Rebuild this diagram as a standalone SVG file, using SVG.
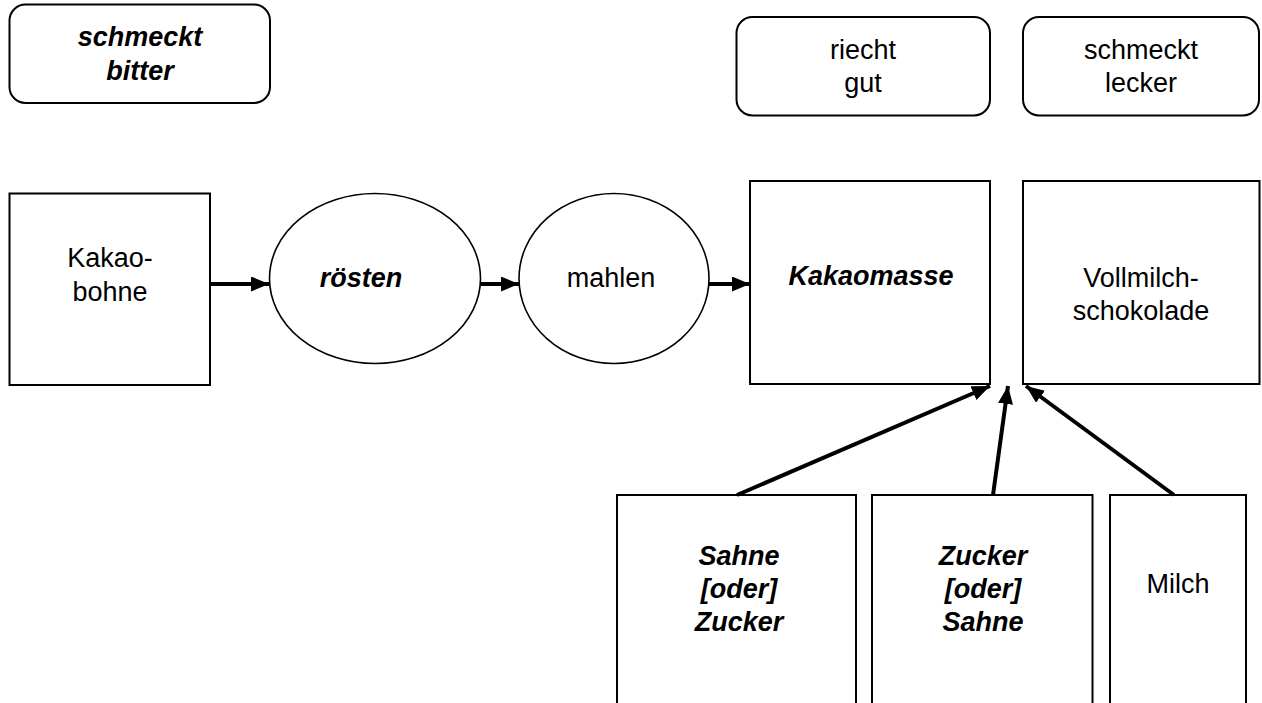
<svg xmlns="http://www.w3.org/2000/svg" width="1262" height="703" viewBox="0 0 1262 703">
<style>
.box{fill:#fff;stroke:#000;stroke-width:2}
.ell{fill:#fff;stroke:#000;stroke-width:1.6}
.t{font-family:"Liberation Sans",Arial,sans-serif;font-size:27px;fill:#000;text-anchor:middle}
.bi{font-weight:bold;font-style:italic}
.arr{stroke:#000;stroke-width:4;fill:none;marker-end:url(#ah)}
</style>
<defs>
<marker id="ah" markerUnits="userSpaceOnUse" markerWidth="18" markerHeight="15" refX="18" refY="7.5" orient="auto">
<path d="M0,0 L18,7.5 L0,15 z" fill="#000"/>
</marker>
</defs>
<rect width="1262" height="703" fill="#fff"/>
<g id="bitter">
<rect class="box" x="9.5" y="4.5" width="260.5" height="98.5" rx="16"/>
<text class="t bi" x="140" y="46">schmeckt</text>
<text class="t bi" x="140" y="80">bitter</text>
</g>
<g id="riecht">
<rect class="box" x="736.5" y="17" width="253.5" height="98.5" rx="16"/>
<text class="t" x="863" y="59">riecht</text>
<text class="t" x="863" y="92">gut</text>
</g>
<g id="lecker">
<rect class="box" x="1023" y="17" width="236" height="98.5" rx="16"/>
<text class="t" x="1141" y="59">schmeckt</text>
<text class="t" x="1141" y="92">lecker</text>
</g>
<g id="kakaobohne">
<rect class="box" x="9.5" y="193.5" width="200.5" height="191.5"/>
<text class="t" x="110" y="267">Kakao-</text>
<text class="t" x="110" y="301">bohne</text>
</g>
<g id="roesten">
<ellipse class="ell" cx="375" cy="278.5" rx="105.5" ry="85"/>
<text class="t bi" x="361" y="287">rösten</text>
</g>
<g id="mahlen">
<ellipse class="ell" cx="614" cy="278.5" rx="95" ry="85"/>
<text class="t" x="611" y="287">mahlen</text>
</g>
<g id="kakaomasse">
<rect class="box" x="750" y="181" width="240" height="203"/>
<text class="t bi" x="871" y="285">Kakaomasse</text>
</g>
<g id="vollmilch">
<rect class="box" x="1023" y="181" width="236.5" height="203"/>
<text class="t" x="1141" y="287">Vollmilch-</text>
<text class="t" x="1141" y="320">schokolade</text>
</g>
<g id="sahne">
<rect class="box" x="617" y="495" width="239" height="240"/>
<text class="t bi" x="739" y="565">Sahne</text>
<text class="t bi" x="739" y="598">[oder]</text>
<text class="t bi" x="739" y="631">Zucker</text>
</g>
<g id="zucker">
<rect class="box" x="872" y="495" width="220.5" height="240"/>
<text class="t bi" x="983" y="565">Zucker</text>
<text class="t bi" x="983" y="598">[oder]</text>
<text class="t bi" x="983" y="631">Sahne</text>
</g>
<g id="milch">
<rect class="box" x="1110" y="495" width="136" height="240"/>
<text class="t" x="1178" y="593">Milch</text>
</g>
<g id="connectors">
<line class="arr" x1="210" y1="284" x2="269" y2="284"/>
<line class="arr" x1="481" y1="284" x2="519" y2="284"/>
<line class="arr" x1="709" y1="284" x2="750" y2="284"/>
<line class="arr" x1="737" y1="495" x2="990" y2="386"/>
<line class="arr" x1="993" y1="495" x2="1008" y2="386"/>
<line class="arr" x1="1174" y1="495" x2="1026" y2="386"/>
</g>
</svg>
